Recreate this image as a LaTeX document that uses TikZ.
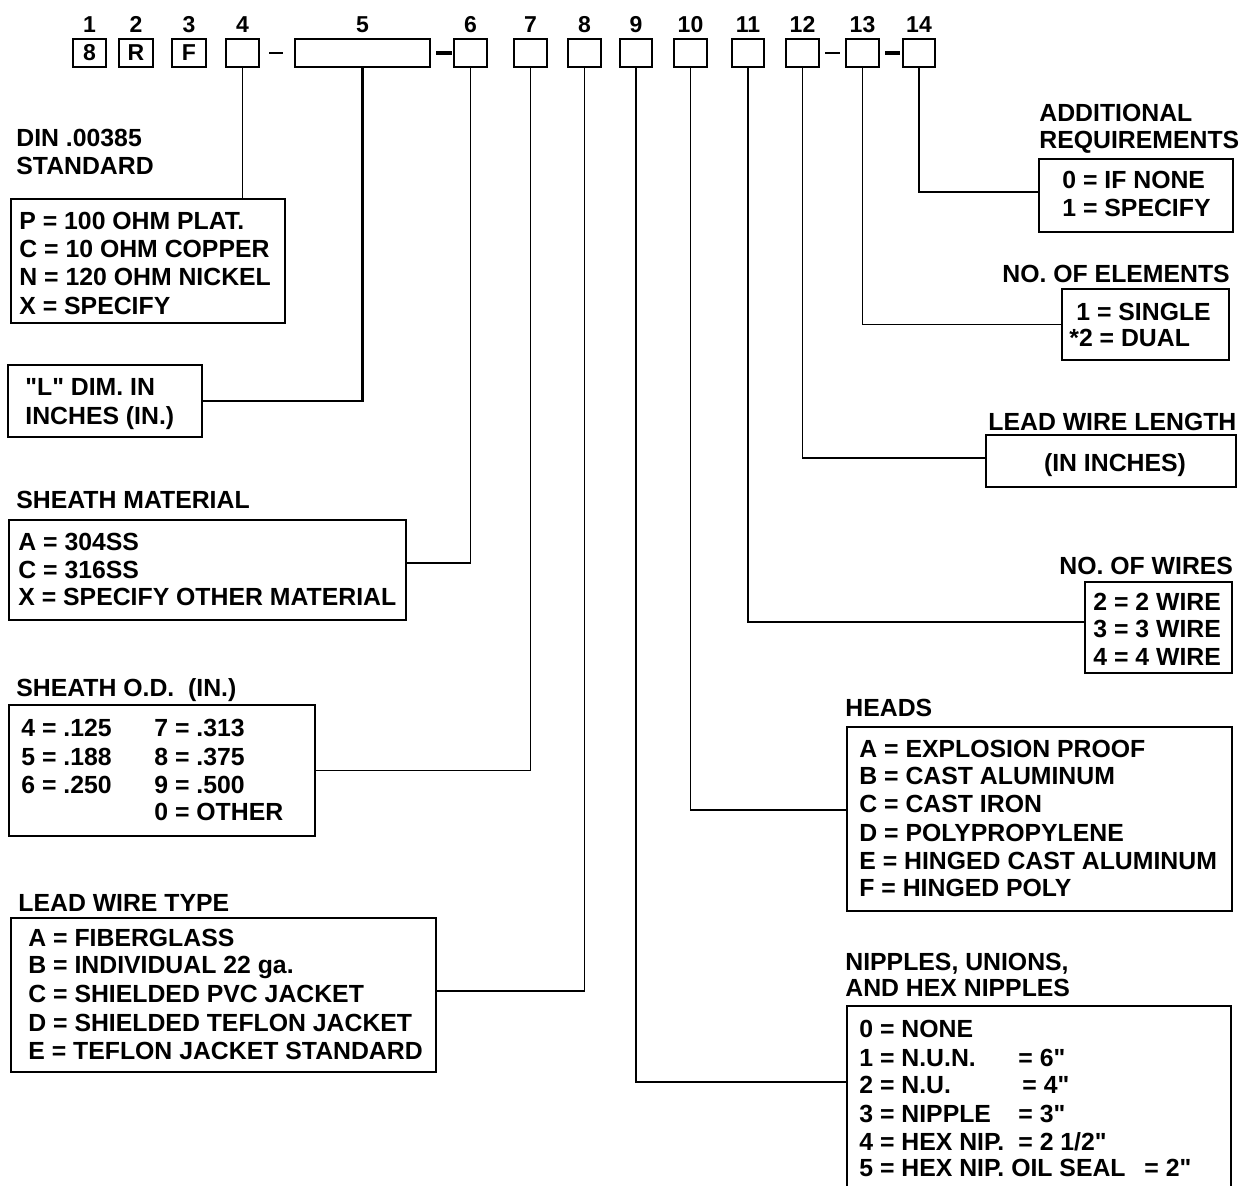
\documentclass[tikz,border=0pt]{standalone}
\usepackage{fontspec}
\setmainfont{Liberation Sans}[Ligatures=TeXOff]
\newcommand{\dq}{"}
\begin{document}
\begin{tikzpicture}[x=0.5pt,y=-0.5pt,
  box/.style={draw=black,line width=0.9pt,inner sep=0pt,outer sep=0pt,anchor=north west},
  topbox/.style={box,minimum height=14pt,font=\fontsize{11.5}{13}\selectfont\bfseries},
  lbl/.style={inner sep=0pt,anchor=base west,font=\fontsize{12.4}{14}\selectfont\bfseries},
  num/.style={inner sep=0pt,anchor=base,font=\fontsize{11.5}{13}\selectfont\bfseries},
  conn/.style={line width=0.65pt},
  heavyconn/.style={line width=1.2pt},
  dashbar/.style={line width=1pt},
  heavybar/.style={line width=1.6pt}]
\useasboundingbox[fill=white] (0,0) rectangle (1243,1186);

% top row of code boxes
\foreach \n/\xa/\xb/\t in {1/73/106/8,2/119/153/R,3/172/206/F,4/226/259/,5/295/430/,6/454/487/,7/514/547/,8/568/601/,9/620/652/,10/674/707/,11/732/764/,12/786/819/,13/846/879/,14/903/935/}{
  \node[topbox,minimum width={(\xb-\xa)*0.5pt}] (b\n) at (\xa,39) {\t};
  \node[num] (n\n) at ({(\xa+\xb)/2},33) {\n};
}
\coordinate (d1a) at (269,53); \coordinate (d1b) at (283,53);
\coordinate (d2a) at (436,53); \coordinate (d2b) at (452,53);
\coordinate (d3a) at (825,53); \coordinate (d3b) at (840,53);
\coordinate (d4a) at (885,53); \coordinate (d4b) at (900,53);
\draw[dashbar] (d1a) -- (d1b);
\draw[heavybar] (d2a) -- (d2b);
\draw[dashbar] (d3a) -- (d3b);
\draw[heavybar] (d4a) -- (d4b);

% ---------- left column ----------
\node[lbl] (tdin1) at (16,147) {DIN .00385};
\node[lbl] (tdin2) at (16,175) {STANDARD};
\node[box,minimum width=137pt,minimum height=62pt] (pbox) at (11,199) {};
\node[lbl] (p1) at (19,230) {P = 100 OHM PLAT.};
\node[lbl] (p2) at (19,258) {C = 10 OHM COPPER};
\node[lbl] (p3) at (19,286) {N = 120 OHM NICKEL};
\node[lbl] (p4) at (19,315) {X = SPECIFY};

\node[box,minimum width=97pt,minimum height=36pt] (lbox) at (8,365) {};
\node[lbl] (l1) at (25,396) {"L" DIM. IN};
\node[lbl] (l2) at (25,425) {INCHES (IN.)};

\node[lbl] (tsm) at (16,509) {SHEATH MATERIAL};
\node[box,minimum width=198.5pt,minimum height=50pt] (smbox) at (9,520) {};
\node[lbl] (s1) at (18,551) {A = 304SS};
\node[lbl] (s2) at (18,579) {C = 316SS};
\node[lbl] (s3) at (18,606) {X = SPECIFY OTHER MATERIAL};

\node[lbl] (tod) at (16,697) {SHEATH O.D.\ \ (IN.)};
\node[box,minimum width=153pt,minimum height=65.5pt] (odbox) at (9,705) {};
\node[lbl] (o1) at (21,737) {4 = .125};
\node[lbl] (o2) at (21,766) {5 = .188};
\node[lbl] (o3) at (21,794) {6 = .250};
\node[lbl] (o4) at (154,737) {7 = .313};
\node[lbl] (o5) at (154,766) {8 = .375};
\node[lbl] (o6) at (154,794) {9 = .500};
\node[lbl] (o7) at (154,821) {0 = OTHER};

\node[lbl] (tlw) at (18,912) {LEAD WIRE TYPE};
\node[box,minimum width=212.5pt,minimum height=77pt] (lwbox) at (11,918) {};
\node[lbl] (w1) at (28,947) {A = FIBERGLASS};
\node[lbl] (w2) at (28,974) {B = INDIVIDUAL 22 ga.};
\node[lbl] (w3) at (28,1002) {C = SHIELDED PVC JACKET};
\node[lbl] (w4) at (28,1031) {D = SHIELDED TEFLON JACKET};
\node[lbl] (w5) at (28,1059) {E = TEFLON JACKET STANDARD};

% ---------- right column ----------
\node[lbl] (tar1) at (1039,122) {ADDITIONAL};
\node[lbl] (tar2) at (1039,149) {REQUIREMENTS};
\node[box,minimum width=97pt,minimum height=36.5pt] (arbox) at (1039,159) {};
\node[lbl] (a1) at (1062,189) {0 = IF NONE};
\node[lbl] (a2) at (1062,217) {1 = SPECIFY};

\node[lbl] (tne) at (1002,283) {NO. OF ELEMENTS};
\node[box,minimum width=83.5pt,minimum height=35.5pt] (nebox) at (1062,289) {};
\node[lbl] (e1) at (1076,321) {1 = SINGLE};
\node[lbl] (e2) at (1069,347) {*2 = DUAL};

\node[lbl] (tll) at (988,431) {LEAD WIRE LENGTH};
\node[box,minimum width=125pt,minimum height=26pt] (llbox) at (986,435) {};
\node[lbl,anchor=base] (ll1) at (1115,472) {(IN INCHES)};

\node[lbl] (tnw) at (1059,575) {NO. OF WIRES};
\node[box,minimum width=73.5pt,minimum height=45.5pt] (nwbox) at (1085,582) {};
\node[lbl] (r1) at (1093,611) {2 = 2 WIRE};
\node[lbl] (r2) at (1093,638) {3 = 3 WIRE};
\node[lbl] (r3) at (1093,666) {4 = 4 WIRE};

\node[lbl] (th) at (845,717) {HEADS};
\node[box,minimum width=192.5pt,minimum height=92pt] (hbox) at (847,727) {};
\node[lbl] (h1) at (859,758) {A = EXPLOSION PROOF};
\node[lbl] (h2) at (859,785) {B = CAST ALUMINUM};
\node[lbl] (h3) at (859,813) {C = CAST IRON};
\node[lbl] (h4) at (859,842) {D = POLYPROPYLENE};
\node[lbl] (h5) at (859,870) {E = HINGED CAST ALUMINUM};
\node[lbl] (h6) at (859,897) {F = HINGED POLY};

\node[lbl] (tn1) at (845,971) {NIPPLES, UNIONS,};
\node[lbl] (tn2) at (845,997) {AND HEX NIPPLES};
\node[box,minimum width=192pt,minimum height=122pt] (nbox) at (847,1006) {};
\node[lbl] (k1) at (859,1037) {0 = NONE};
\node[lbl] (k2) at (859,1066) {1 = N.U.N.};
\node[lbl] (k3) at (859,1094) {2 = N.U.};
\node[lbl] (k4) at (859,1122) {3 = NIPPLE};
\node[lbl] (k5) at (859,1150) {4 = HEX NIP.};
\node[lbl] (k6) at (859,1176) {5 = HEX NIP. OIL SEAL};
\node[lbl] (q2) at (1018,1066) {= 6"};
\node[lbl] (q3) at (1022,1094) {= 4"};
\node[lbl] (q4) at (1018,1122) {= 3"};
\node[lbl] (q5) at (1018,1150) {= 2 1/2"};
\node[lbl] (q6) at (1144,1176) {= 2"};

% ---------- connectors ----------
\draw[conn] (b4.south) -- (b4.south |- pbox.north);
\draw[heavyconn] (b5.south) |- (lbox.east);
\draw[conn] (b6.south) |- ([yshift=3.5pt]smbox.east);
\draw[conn] (b7.south) |- (odbox.east);
\draw[conn] (b8.south) |- ([yshift=2pt]lwbox.east);
\draw[conn] (b9.south) |- ([yshift=23pt]nbox.west);
\draw[conn] (b10.south) |- ([yshift=4.5pt]hbox.west);
\draw[conn] (b11.south) |- ([yshift=2.75pt]nwbox.west);
\draw[conn] (b12.south) |- ([yshift=1.5pt]llbox.west);
\draw[conn] (b13.south) |- (nebox.west);
\draw[heavyconn] (b14.south) |- ([yshift=1.75pt]arbox.west);
\end{tikzpicture}
\end{document}
